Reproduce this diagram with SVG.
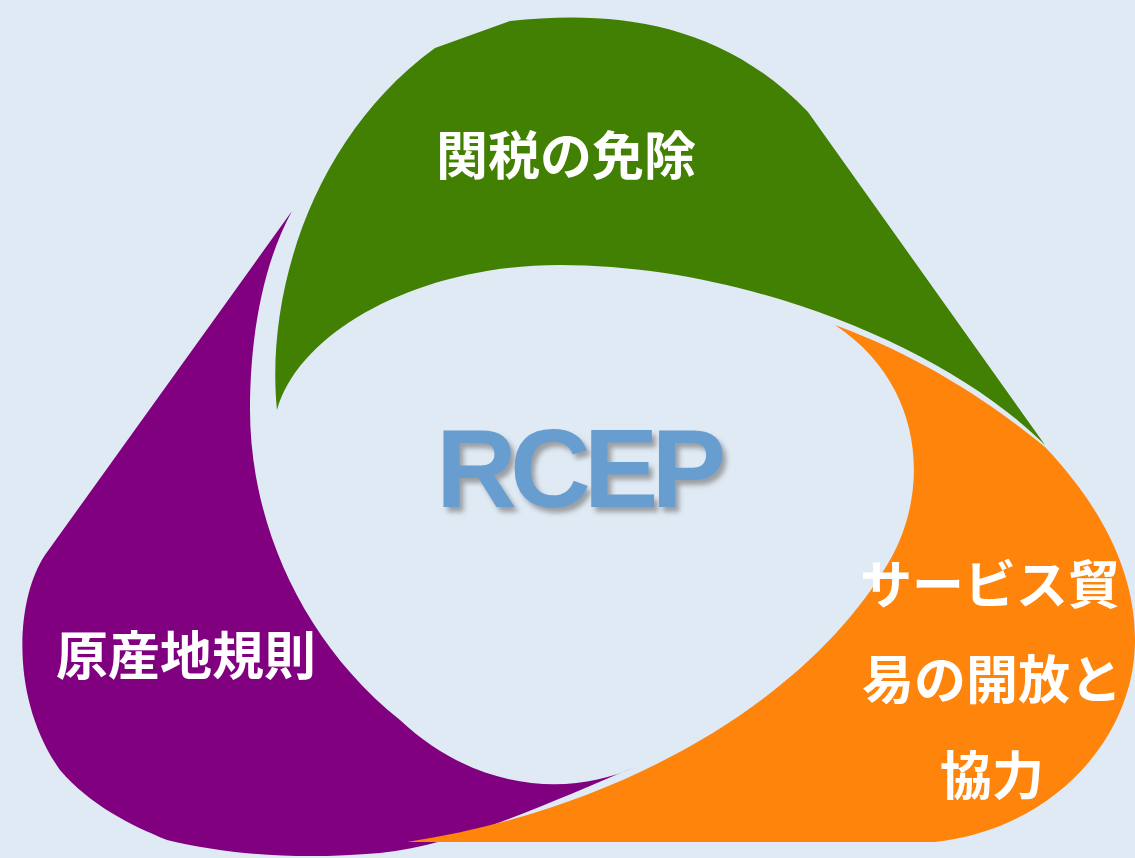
<svg xmlns="http://www.w3.org/2000/svg" width="1135" height="858" viewBox="0 0 1135 858">
  <style>
    .lbl { font-family: "Noto Sans CJK JP", "Noto Sans", sans-serif; font-weight: 700; font-size: 52px; fill: #ffffff; text-anchor: middle; }
    .title { font-family: "Liberation Sans", Arial, sans-serif; font-weight: 700; font-size: 112px; fill: #689ECF; letter-spacing: -7px; }
  </style>
  <defs>
    <filter id="shadow" x="-10%" y="-20%" width="130%" height="150%">
      <feDropShadow dx="4" dy="5" stdDeviation="2.5" flood-color="#7f7f7f" flood-opacity="0.7"/>
    </filter>
  </defs>
  <rect x="0" y="0" width="1135" height="858" fill="#DFEAF5"/>

  <g id="node-tariff">
    <path d="M 277,410 C 265,290 315,135 435,48 L 510,21 C 610,10 720,20 808,112 L 1045,445 C 950,350 750,265 560,265 C 420,265 300,330 277,410 Z" fill="#418003"/>
    <text class="lbl" x="566" y="175">関税の免除</text>
  </g>

  <g id="node-origin">
    <path d="M 292,211 L 45,555 C 15,600 10,700 60,770 C 90,805 130,825 167,840 C 230,855 300,860 380,853 C 460,845 555,800 635,767 C 575,795 480,795 400,720 C 300,640 250,520 250,410 C 250,330 265,260 292,211 Z" fill="#800080"/>
    <text class="lbl" x="186" y="675">原産地規則</text>
  </g>

  <g id="node-service">
    <path d="M 835,325 C 930,360 1000,410 1045,447 C 1100,505 1135,570 1135,640 C 1135,740 1050,830 935,842 L 407,842 C 620,810 810,700 890,560 C 930,490 925,385 835,325 Z" fill="#FE840B"/>
    <text class="lbl" x="990" y="604">サービス貿</text>
    <text class="lbl" x="992" y="699">易の開放と</text>
    <text class="lbl" x="992" y="795">協力</text>
  </g>

  <g id="node-center">
    <text class="title" x="436" y="507" filter="url(#shadow)">RCEP</text>
  </g>

  <g id="connectors"></g>
</svg>
